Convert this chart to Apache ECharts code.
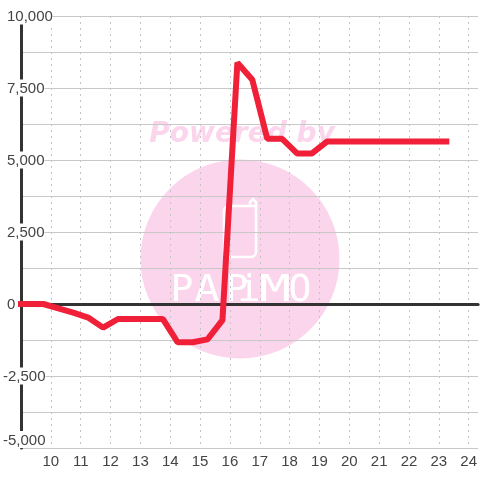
<!DOCTYPE html>
<html>
<head>
<meta charset="utf-8">
<style>
  html, body { margin: 0; padding: 0; background: #fff; }
  #chart { width: 480px; height: 480px; }
</style>
<script src="https://cdn.jsdelivr.net/npm/echarts@6/dist/echarts.min.js"></script>
</head>
<body>
<div id="chart"></div>
<script>
const hours = [9, 9.75, 10.25, 10.75, 11.25, 11.75, 12.25, 12.75, 13.25, 13.75, 14.25, 14.75, 15.25, 15.75, 16.25, 16.75, 17.25, 17.75, 18.25, 18.75, 19.25, 19.75, 20.25, 20.75, 21.25, 21.75, 22.25, 22.75, 23.25];
const values = [0, 0, -150, -300, -470, -820, -520, -520, -520, -520, -1330, -1330, -1230, -560, 8380, 7790, 5735, 5735, 5230, 5230, 5640, 5640, 5640, 5640, 5640, 5640, 5640, 5640, 5640];
const pink = "#fbd5ec";
const ink = "#444";

const chart = echarts.init(document.getElementById("chart"));

// watermark letters are placed one by one, the gaps are too wide for a font
const letters = [["P", 182, 1], ["A", 207, 1.1], ["P", 237, 1], ["i", 249, 1], ["M", 275, 1.4], ["O", 300, 1]].map(([ch, x, sx]) => ({
  type: "text",
  z: -1,
  x: x,
  y: 291,
  scaleX: sx,
  style: { x: 0, y: 0, text: ch, fill: "#fff", font: "38px 'DejaVu Sans Mono'", align: "center", verticalAlign: "middle" }
}));

chart.setOption({
  animation: false,
  backgroundColor: "#fff",
  textStyle: { fontFamily: "Liberation Sans" },
  grid: { left: 20, right: 0, top: 16, bottom: 32, containLabel: false },
  graphic: [
    { type: "circle", z: -2, shape: { cx: 240, cy: 259, r: 99.5 }, style: { fill: pink } },
    { type: "text", z: -2, style: { x: 242, y: 135, text: "Powered by", fill: pink, font: "italic bold 28px 'DejaVu Sans'", align: "center", verticalAlign: "middle" } },
    { type: "rect", z: -1, shape: { x: 224, y: 206, width: 32, height: 51, r: [5, 0, 5, 5] }, style: { stroke: "#fff", fill: null, lineWidth: 2.5 } },
    { type: "polyline", z: -1, shape: { points: [[250, 206], [250, 202], [253, 199], [256, 202], [256, 210]] }, style: { stroke: "#fff", fill: null, lineWidth: 2.5 } }
  ].concat(letters),
  xAxis: [
    {
      type: "value",
      min: 9,
      max: 24.317,
      interval: 1,
      axisLine: { show: false, onZero: false },
      axisTick: { show: false },
      axisLabel: {
        color: ink,
        fontSize: 15,
        margin: 6,
        showMinLabel: false,
        showMaxLabel: false
      },
      splitLine: { show: true, showMaxLine: false, lineStyle: { color: "#c4c4c4", width: 1, type: [2, 4] } }
    },
    {
      // dark zero line
      type: "value",
      min: 9,
      max: 24.317,
      position: "bottom",
      axisLine: { show: true, onZero: true, lineStyle: { color: "#333", width: 3 } },
      axisTick: { show: false },
      axisLabel: { show: false },
      splitLine: { show: false }
    }
  ],
  yAxis: {
    type: "value",
    min: -5000,
    max: 10000,
    interval: 1250,
    axisLine: { show: true, onZero: false, lineStyle: { color: "#333", width: 3 } },
    axisTick: { show: false },
    splitLine: { show: true, lineStyle: { color: "#c8c8c8", width: 1 } },
    axisLabel: {
      inside: true,
      margin: -18,
      fontSize: 15,
      color: ink,
      align: "left",
      verticalAlignMinLabel: "bottom",
      formatter: function (v) {
        if (v % 2500 !== 0) return "";
        const s = v.toLocaleString("en-US");
        return v < 0 ? "{neg|" + s + "}" : "{pos|" + s + "}";
      },
      rich: {
        neg: { fontSize: 15, color: ink, backgroundColor: "#fff", padding: [2, 0, 0, 0] },
        pos: { fontSize: 15, color: ink, backgroundColor: "#fff", padding: [2, 0, 0, 4] }
      }
    }
  },
  series: [{
    type: "line",
    xAxisIndex: 0,
    data: hours.map((h, i) => [h, values[i]]),
    showSymbol: false,
    clip: false,
    lineStyle: { color: "#f02038", width: 6, cap: "square", join: "bevel" }
  }]
});
</script>
</body>
</html>
